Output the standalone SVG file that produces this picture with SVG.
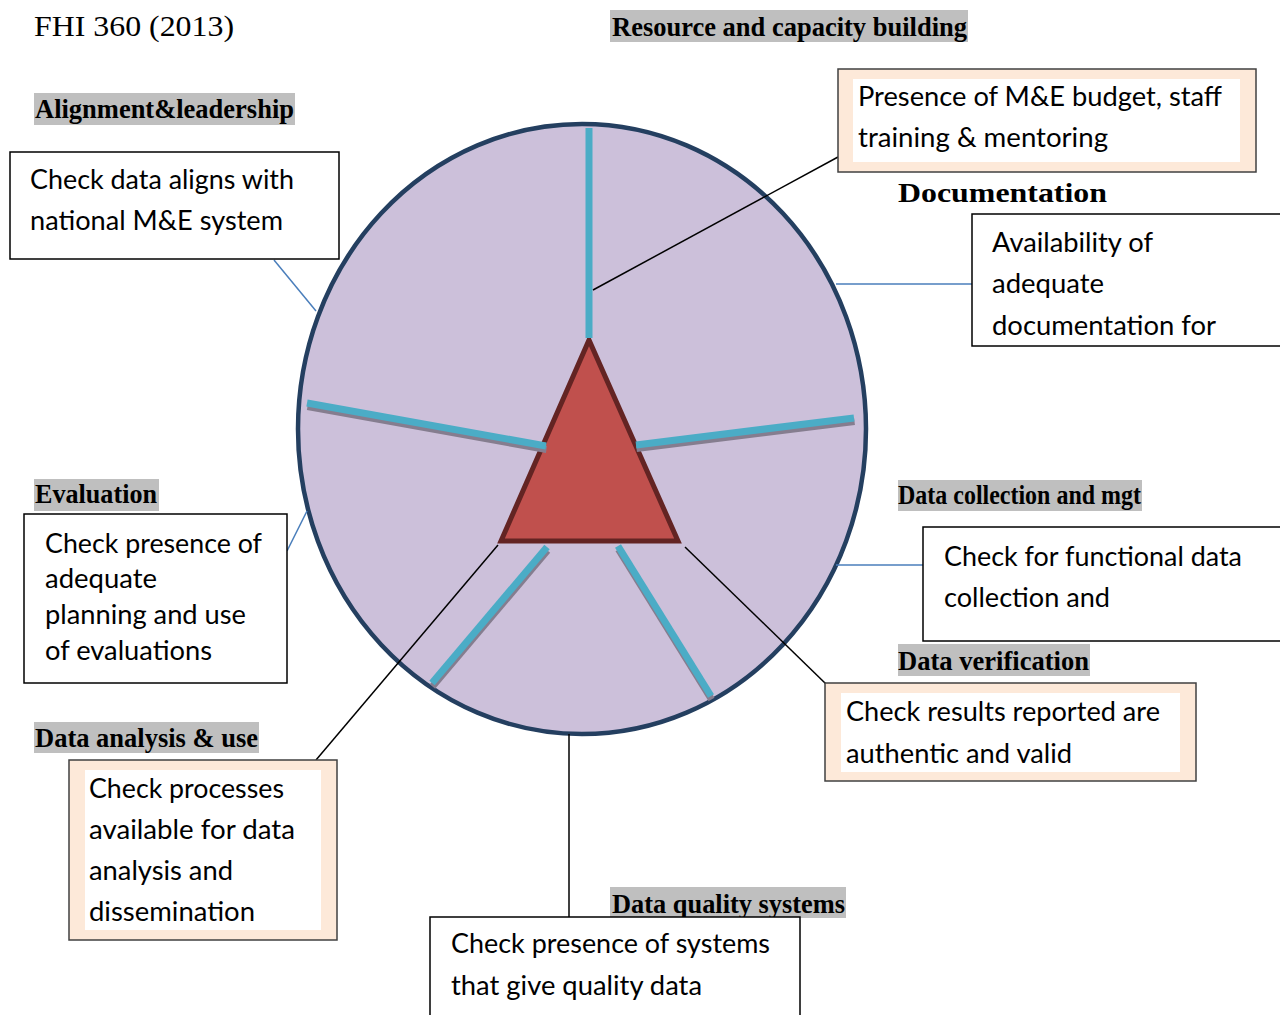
<svg xmlns="http://www.w3.org/2000/svg" width="1280" height="1015" viewBox="0 0 1280 1015">
<style>
.hd{font-family:"Liberation Serif","Times New Roman",serif;font-weight:bold;font-size:27px;fill:#000}
.hl{fill:#bfbfbf}
.bx{fill:#fff;stroke:#000;stroke-width:1.5}
.pbx{fill:#fde9d9;stroke:#404040;stroke-width:1.5}
.pin{fill:#fff}
.t{font-family:"Lato","Open Sans",sans-serif;font-size:27px;fill:#000}
.spoke{stroke:#4bacc6;stroke-width:7;fill:none}
.shadow{stroke:#857d8f;stroke-width:7;fill:none}
.blue{stroke:#4a7ebb;stroke-width:1.5;fill:none}
.blk{stroke:#000;stroke-width:1.5;fill:none}
</style>
<rect width="1280" height="1015" fill="#fff"/>

<g id="title">
<text x="34" y="36" font-family="Liberation Serif,'Times New Roman',serif" font-size="30" textLength="200" lengthAdjust="spacingAndGlyphs">FHI 360 (2013)</text>
</g>

<g id="wheel">
<ellipse cx="582" cy="429" rx="284" ry="305" fill="#ccc0da" stroke="#243f60" stroke-width="4.5"/>
<polygon points="589,340 501,541 678,541" fill="#c0504d" stroke="#632423" stroke-width="5"/>
<g transform="translate(0.5,3.5)">
<line class="shadow" x1="307" y1="403" x2="546" y2="446"/>
<line class="shadow" x1="636" y1="445" x2="854" y2="418"/>
<line class="shadow" x1="547" y1="547" x2="432" y2="683"/>
<line class="shadow" x1="618" y1="546" x2="711" y2="696"/>
</g>
<line class="spoke" x1="589" y1="128" x2="589" y2="338"/>
<line class="spoke" x1="307" y1="403" x2="546" y2="446"/>
<line class="spoke" x1="636" y1="445" x2="854" y2="418"/>
<line class="spoke" x1="547" y1="547" x2="432" y2="683"/>
<line class="spoke" x1="618" y1="546" x2="711" y2="696"/>
</g>

<g id="connectors">
<line class="blue" x1="274" y1="260" x2="316" y2="311"/>
<line class="blue" x1="836" y1="284" x2="972" y2="284"/>
<line class="blue" x1="287" y1="551" x2="307" y2="511"/>
<line class="blue" x1="836" y1="565" x2="923" y2="565"/>
<line class="blk" x1="593" y1="290" x2="838" y2="157"/>
<line class="blk" x1="685" y1="547" x2="826" y2="684"/>
<line class="blk" x1="498" y1="545" x2="316" y2="760"/>
<line class="blk" x1="569" y1="734" x2="569" y2="917"/>
</g>

<g id="resource">
<rect class="hl" x="610" y="10" width="358" height="32"/>
<text class="hd" x="612" y="36" textLength="355" lengthAdjust="spacingAndGlyphs">Resource and capacity building</text>
<rect class="pbx" x="838" y="69" width="418" height="103"/>
<rect class="pin" x="853" y="79" width="387" height="83"/>
<text class="t" x="858" y="106" textLength="364" lengthAdjust="spacingAndGlyphs">Presence of M&amp;E budget, staff</text>
<text class="t" x="858" y="147" textLength="250" lengthAdjust="spacingAndGlyphs">training &amp; mentoring</text>
</g>

<g id="alignment">
<rect class="hl" x="34" y="93" width="261" height="32"/>
<text class="hd" x="35" y="118" textLength="259" lengthAdjust="spacingAndGlyphs">Alignment&amp;leadership</text>
<rect class="bx" x="10" y="152" width="329" height="107"/>
<text class="t" x="30" y="189" textLength="264" lengthAdjust="spacingAndGlyphs">Check data aligns with</text>
<text class="t" x="30" y="230" textLength="253" lengthAdjust="spacingAndGlyphs">national M&amp;E system</text>
</g>

<g id="documentation">
<text class="hd" x="898" y="202" font-size="33" textLength="209" lengthAdjust="spacingAndGlyphs">Documentation</text>
<rect class="bx" x="972" y="214" width="320" height="132"/>
<text class="t" x="992" y="252" textLength="161" lengthAdjust="spacingAndGlyphs">Availability of</text>
<text class="t" x="992" y="293" textLength="112" lengthAdjust="spacingAndGlyphs">adequate</text>
<text class="t" x="992" y="335" textLength="224" lengthAdjust="spacingAndGlyphs">documentation for</text>
</g>

<g id="evaluation">
<rect class="hl" x="34" y="479" width="125" height="32"/>
<text class="hd" x="35" y="503" textLength="122" lengthAdjust="spacingAndGlyphs">Evaluation</text>
<rect class="bx" x="24" y="514" width="263" height="169"/>
<text class="t" x="45" y="553" textLength="217" lengthAdjust="spacingAndGlyphs">Check presence of</text>
<text class="t" x="45" y="588" textLength="112" lengthAdjust="spacingAndGlyphs">adequate</text>
<text class="t" x="45" y="624" textLength="201" lengthAdjust="spacingAndGlyphs">planning and use</text>
<text class="t" x="45" y="660" textLength="167" lengthAdjust="spacingAndGlyphs">of evaluations</text>
</g>

<g id="data-collection">
<rect class="hl" x="898" y="480" width="244" height="31"/>
<text class="hd" x="898" y="504" textLength="243" lengthAdjust="spacingAndGlyphs">Data collection and mgt</text>
<rect class="bx" x="923" y="527" width="370" height="114"/>
<text class="t" x="944" y="566" textLength="298" lengthAdjust="spacingAndGlyphs">Check for functional data</text>
<text class="t" x="944" y="607" textLength="166" lengthAdjust="spacingAndGlyphs">collection and</text>
</g>

<g id="data-verification">
<rect class="hl" x="898" y="644" width="192" height="32"/>
<text class="hd" x="898" y="670" textLength="191" lengthAdjust="spacingAndGlyphs">Data verification</text>
<rect class="pbx" x="825" y="683" width="371" height="98"/>
<rect class="pin" x="841" y="693" width="339" height="79"/>
<text class="t" x="846" y="721" textLength="314" lengthAdjust="spacingAndGlyphs">Check results reported are</text>
<text class="t" x="846" y="763" textLength="226" lengthAdjust="spacingAndGlyphs">authentic and valid</text>
</g>

<g id="data-analysis">
<rect class="hl" x="34" y="722" width="225" height="31"/>
<text class="hd" x="35" y="747" textLength="223" lengthAdjust="spacingAndGlyphs">Data analysis &amp; use</text>
<rect class="pbx" x="69" y="760" width="268" height="180"/>
<rect class="pin" x="85" y="770" width="236" height="160"/>
<text class="t" x="89" y="798" textLength="195" lengthAdjust="spacingAndGlyphs">Check processes</text>
<text class="t" x="89" y="839" textLength="206" lengthAdjust="spacingAndGlyphs">available for data</text>
<text class="t" x="89" y="880" textLength="144" lengthAdjust="spacingAndGlyphs">analysis and</text>
<text class="t" x="89" y="921" textLength="166" lengthAdjust="spacingAndGlyphs">dissemination</text>
</g>

<g id="data-quality">
<rect class="hl" x="610" y="887" width="236" height="31"/>
<text class="hd" x="612" y="913" textLength="233" lengthAdjust="spacingAndGlyphs">Data quality systems</text>
<rect class="bx" x="430" y="917" width="370" height="110"/>
<text class="t" x="451" y="953" textLength="319" lengthAdjust="spacingAndGlyphs">Check presence of systems</text>
<text class="t" x="451" y="995" textLength="251" lengthAdjust="spacingAndGlyphs">that give quality data</text>
</g>
</svg>
